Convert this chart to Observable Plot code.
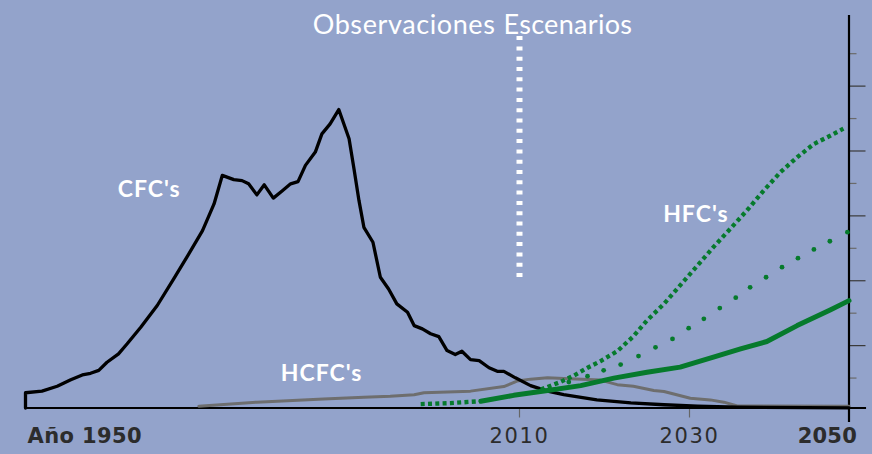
<!DOCTYPE html>
<html><head><meta charset="utf-8">
<script src="https://cdn.jsdelivr.net/npm/d3@7"></script>
<script src="https://cdn.jsdelivr.net/npm/@observablehq/plot@0.6"></script>
<style>
html,body{margin:0;padding:0;background:#93a3cb;}
#chart{width:872px;height:454px;overflow:hidden}
</style></head><body><div id="chart"></div>
<script>
// ---- data (years, values in axis-tick units) ----
const cfcYears  = [1950,1950,1952.0,1953.85,1955.5,1956.9,1957.9,1958.9,1959.9,1961.3,1962.35,1964.0,1966.0,1968.0,1969.6,1971.5,1972.9,1973.9,1975.3,1976.3,1977.1,1978.1,1979.0,1980.1,1981.2,1982.2,1983.1,1984.0,1985.2,1986.0,1987.0,1988.05,1989.3,1989.9,1990.5,1991.1,1992.2,1993.1,1994.1,1995.1,1996.4,1997.2,1998.2,1999.2,2000.2,2001.2,2002.2,2003.0,2004.05,2005.1,2006.3,2007.3,2008.1,2009.5,2011.3,2013.3,2015.2,2019.1,2023.1,2027.0,2031.0,2036.0,2050];
const cfcValues = [0,0.47,0.52,0.67,0.87,1.02,1.07,1.16,1.41,1.67,1.98,2.49,3.16,3.98,4.65,5.47,6.29,7.17,7.04,7.01,6.91,6.57,6.88,6.47,6.70,6.91,6.98,7.48,7.89,8.45,8.76,9.20,8.30,7.37,6.40,5.57,5.11,4.03,3.67,3.21,2.95,2.54,2.44,2.29,2.20,1.77,1.65,1.75,1.49,1.46,1.24,1.13,1.13,0.93,0.69,0.52,0.41,0.25,0.16,0.10,0.055,0.025,0.006];

const hcfcYears  = [1971.05,1978.1,1986.2,1991.1,1994.3,1997.2,1998.4,2004.05,2008.1,2009.7,2011.3,2013.3,2015.2,2019.5,2021.5,2023.4,2025.8,2027.0,2030.1,2032.6,2034.3,2036.0,2050];
const hcfcValues = [0.055,0.18,0.28,0.33,0.36,0.41,0.47,0.52,0.66,0.83,0.89,0.93,0.91,0.86,0.72,0.67,0.54,0.51,0.30,0.25,0.18,0.06,0.055];

const hfcObsYears  = [1998.0,2001.6,2005.3];
const hfcObsValues = [0.12,0.15,0.21];

const hfcLowYears  = [2005.3,2009.3,2013.3,2017.2,2021.1,2025.0,2028.9,2033.0,2036.4,2039.7,2043.5,2047.7,2050];
const hfcLowValues = [0.21,0.39,0.54,0.69,0.92,1.10,1.26,1.57,1.82,2.05,2.54,3.03,3.31];

const hfcHighYears  = [2012.5,2014.8,2016.4,2018.0,2019.5,2021.5,2023.4,2025.0,2027.0,2028.9,2031.0,2033.0,2035.1,2037.2,2039.3,2041.4,2043.5,2045.6,2047.7,2049.3];
const hfcHighValues = [0.57,0.80,1.00,1.24,1.44,1.75,2.21,2.70,3.21,3.78,4.39,4.96,5.52,6.09,6.70,7.27,7.73,8.14,8.40,8.61];

const hfcMidYears  = [2015.8,2018.0,2019.9,2021.9,2024.0,2026.0,2028.0,2029.9,2031.8,2033.8,2035.8,2037.6,2039.6,2041.6,2043.6,2045.6,2047.6,2049.8];
const hfcMidValues = [0.80,0.98,1.16,1.34,1.60,1.87,2.13,2.46,2.75,3.08,3.40,3.72,4.03,4.34,4.62,4.89,5.14,5.42];

const tickYears  = [1950, 2010, 2030, 2050];
const tickLabels = ["Año 1950", "2010", "2030", "2050"];
const yMajorTicks = [2, 4, 6, 8, 10];
const yMinorTicks = [1, 3, 5, 7, 9, 11];

const seriesNames  = ["CFC's", "HFC's", "HCFC's"];
const seriesLabelX = [1961.2, 2026.9, 1981.0];
const seriesLabelY = [6.72, 5.96, 1.05];

const periodLabels = ["Observaciones", "Escenarios"];
const dividerYear = 2010;

// ---- build rows ----
const rows = (xs, ys) => xs.map((x, i) => ({year: x, value: ys[i]}));
const cfc = rows(cfcYears, cfcValues);
const hcfc = rows(hcfcYears, hcfcValues);
const hfcObs = rows(hfcObsYears, hfcObsValues);
const hfcLow = rows(hfcLowYears, hfcLowValues);
const hfcHigh = rows(hfcHighYears, hfcHighValues);
const hfcMid = rows(hfcMidYears, hfcMidValues);
const xTicks = tickYears.map((y, i) => ({year: y, label: tickLabels[i]}));
const seriesLabels = seriesNames.map((n, i) => ({name: n, year: seriesLabelX[i], value: seriesLabelY[i]}));

const GREEN = "#067a2c";
const DARK = "#2c2c2c";
const FONT = "Lato, 'Open Sans', sans-serif";
const AXFONT = "'DejaVu Sans', sans-serif";

const chart = Plot.plot({
  width: 872, height: 454,
  marginLeft: 25, marginRight: 23.5, marginTop: 15, marginBottom: 46.5,
  style: {background: "#93a3cb", fontFamily: FONT, overflow: "visible"},
  x: {type: "linear", domain: [1950, 2010, 2030, 2050], range: [25, 519, 689, 848.5]},
  y: {domain: [0, 12.1]},
  marks: [
    Plot.axisY({anchor: "right", ticks: yMinorTicks, tickSize: 7, tickFormat: () => "", label: null, stroke: "#6a6a6a", strokeWidth: 1.2, dy: 2.5}),
    Plot.axisY({anchor: "right", ticks: yMajorTicks, tickSize: 16, tickFormat: () => "", label: null, stroke: "#3a3a3a", strokeWidth: 1.2, dy: 2.5}),
    Plot.axisX({anchor: "bottom", ticks: [2010, 2030], tickSize: 10, tickFormat: () => "", label: null, stroke: "#666", strokeWidth: 1.2}),
    Plot.ruleY([0], {x1: 1950, x2: 2052.2, stroke: "black", strokeWidth: 2.2}),
    Plot.ruleX([2050], {y1: -0.45, y2: 12.1, stroke: "black", strokeWidth: 2.2}),
    Plot.ruleX([dividerYear], {y1: 11.45, y2: 4.0, stroke: "white", strokeWidth: 6, strokeDasharray: "4,6.3"}),
    Plot.lineY(hcfc, {x: "year", y: "value", stroke: "#6e6e6e", strokeWidth: 3}),
    Plot.lineY(cfc, {x: "year", y: "value", stroke: "black", strokeWidth: 3.3, strokeLinejoin: "round"}),
    Plot.lineY(hfcObs, {x: "year", y: "value", stroke: GREEN, strokeWidth: 4.3, strokeDasharray: "4,3.3", strokeLinecap: "butt"}),
    Plot.lineY(hfcHigh, {x: "year", y: "value", stroke: GREEN, strokeWidth: 4.3, strokeDasharray: "4,3.3", strokeLinecap: "butt"}),
    Plot.dot(hfcMid, {x: "year", y: "value", r: 2.4, fill: GREEN}),
    Plot.lineY(hfcLow, {x: "year", y: "value", stroke: GREEN, strokeWidth: 5}),
    Plot.text(seriesLabels, {x: "year", y: "value", text: "name", textAnchor: "start", fill: "white", fontSize: 23, fontWeight: 700}),
    Plot.text([periodLabels[0]], {x: () => dividerYear, y: () => 11.8, text: d => d, textAnchor: "end", dx: -24, fill: "white", fontSize: 27}),
    Plot.text([periodLabels[1]], {x: () => dividerYear, y: () => 11.8, text: d => d, textAnchor: "start", dx: -16, fill: "white", fontSize: 27}),
    Plot.text(xTicks.slice(0, 1), {x: "year", text: "label", frameAnchor: "bottom", dy: 35, dx: 2, textAnchor: "start", fill: DARK, fontSize: 21, fontWeight: 700, fontFamily: AXFONT}),
    Plot.text(xTicks.slice(1, 3), {x: "year", text: "label", frameAnchor: "bottom", dy: 35, textAnchor: "middle", fill: DARK, fontSize: 21, fontFamily: AXFONT}),
    Plot.text(xTicks.slice(3), {x: "year", text: "label", frameAnchor: "bottom", dy: 35, dx: 8, textAnchor: "end", fill: DARK, fontSize: 21, fontWeight: 700, fontFamily: AXFONT})
  ]
});
// letter-spacing per text layer (series labels, title halves, x labels)
const spacing = ["1px", "0.6px", "0.3px", "0.4px", "1.6px", "0.2px"];
chart.querySelectorAll('g[aria-label="text"]').forEach((g, i) => {
  if (spacing[i]) g.setAttribute("letter-spacing", spacing[i]);
});
document.getElementById("chart").appendChild(chart);
</script>
</body></html>
